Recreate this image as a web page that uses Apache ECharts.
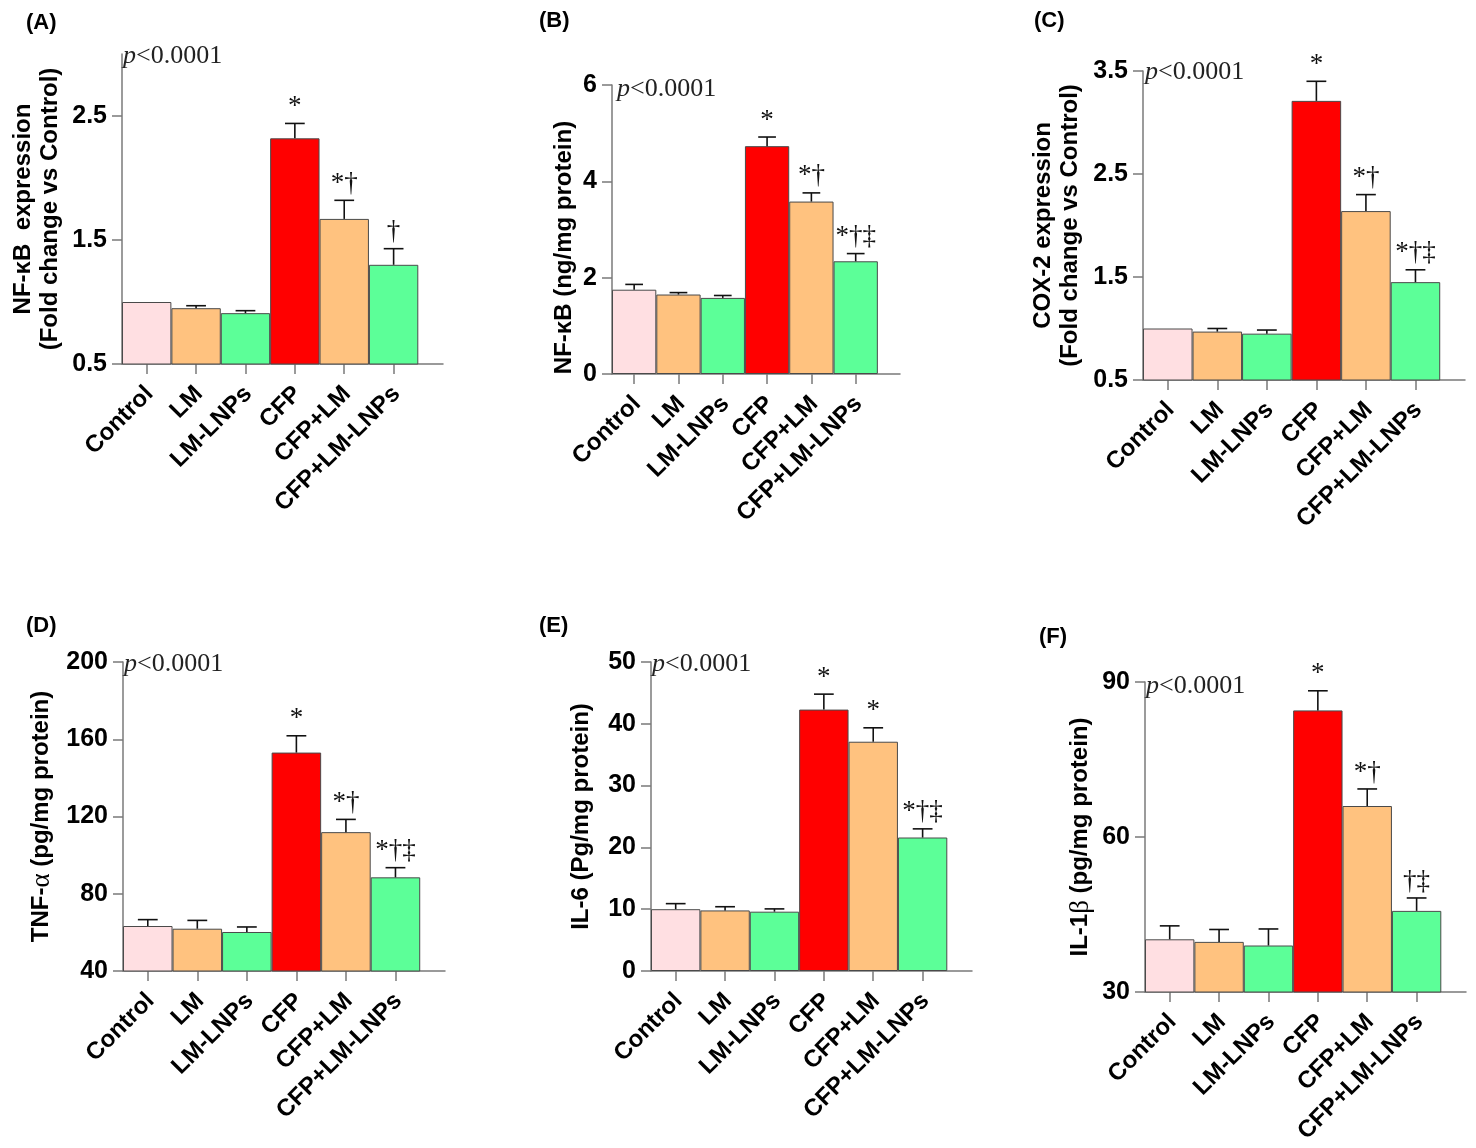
<!DOCTYPE html>
<html>
<head>
<meta charset="utf-8">
<script src="https://cdn.jsdelivr.net/npm/echarts@6/dist/echarts.min.js"></script>
<style>
    html, body {margin: 0; padding: 0; background: #fff;}
    #chart {width: 1476px; height: 1148px;}
</style>
</head>
<body>
<div id="chart"></div>
<script>
// groups on the x axis of every panel
const groups = ['Control', 'LM', 'LM-LNPs', 'CFP', 'CFP+LM', 'CFP+LM-LNPs']

// (A) NF-kB expression, fold change
const nfkbFold = [1.00, 0.95, 0.91, 2.32, 1.67, 1.30]
const nfkbFoldErr = [0, 0.02, 0.02, 0.12, 0.15, 0.13]
const nfkbFoldSig = ['', '', '', '*', '*†', '†']

// (B) NF-kB, ng/mg protein
const nfkbProt = [1.75, 1.65, 1.58, 4.73, 3.58, 2.34]
const nfkbProtErr = [0.11, 0.04, 0.05, 0.19, 0.18, 0.16]
const nfkbProtSig = ['', '', '', '*', '*†', '*†‡']

// (C) COX-2 expression, fold change
const cox2Fold = [1.00, 0.97, 0.95, 3.21, 2.14, 1.45]
const cox2FoldErr = [0, 0.03, 0.035, 0.19, 0.16, 0.12]
const cox2FoldSig = ['', '', '', '*', '*†', '*†‡']

// (D) TNF-alpha, pg/mg protein
const tnfAlpha = [63.3, 61.9, 60.2, 153.1, 111.9, 88.5]
const tnfAlphaErr = [3.3, 4.3, 2.6, 8.7, 6.6, 5.0]
const tnfAlphaSig = ['', '', '', '*', '*†', '*†‡']

// (E) IL-6, pg/mg protein
const il6 = [10.0, 9.8, 9.6, 42.3, 37.1, 21.6]
const il6Err = [0.9, 0.6, 0.45, 2.5, 2.25, 1.4]
const il6Sig = ['', '', '', '*', '*', '*†‡']

// (F) IL-1beta, pg/mg protein
const il1b = [40.2, 39.7, 39.0, 84.5, 66.0, 45.7]
const il1bErr = [2.6, 2.4, 3.2, 3.8, 3.3, 2.5]
const il1bSig = ['', '', '', '*', '*†', '†‡']

// y tick values per panel
const ticksA = [0.5, 1.5, 2.5]
const ticksB = [0, 2, 4, 6]
const ticksC = [0.5, 1.5, 2.5, 3.5]
const ticksD = [40, 80, 120, 160, 200]
const ticksE = [0, 10, 20, 30, 40, 50]
const ticksF = [30, 60, 90]

const barColors = ['#FFDFE2', '#FFC27F', '#5CFF98', '#FF0000', '#FFC27F', '#5CFF98']

const panels = [
    {tag: '(A)', name: 'NF-κB  expression\n(Fold change vs Control)', vals: nfkbFold, errs: nfkbFoldErr, sigs: nfkbFoldSig,
        ticks: ticksA, min: 0.5, max: 3.0,
        grid: {left: 122, top: 54, width: 321, height: 310}, nameGap: 58, namePad: [0, 0, 0, 0],
        tagPos: [26, 12], pPos: [123, 43]},
    {tag: '(B)', name: 'NF-κB (ng/mg protein)', vals: nfkbProt, errs: nfkbProtErr, sigs: nfkbProtSig,
        ticks: ticksB, min: 0, max: 6,
        grid: {left: 612, top: 85, width: 288, height: 289}, nameGap: 34, namePad: [0, 36, 0, 0],
        tagPos: [539, 10], pPos: [617, 76]},
    {tag: '(C)', name: 'COX-2 expression\n(Fold change vs Control)', vals: cox2Fold, errs: cox2FoldErr, sigs: cox2FoldSig,
        ticks: ticksC, min: 0.5, max: 3.5,
        grid: {left: 1143, top: 71, width: 322, height: 309}, nameGap: 59, namePad: [0, 0, 0, 0],
        tagPos: [1034, 10], pPos: [1145, 59]},
    {tag: '(D)', name: 'TNF-{g|α} (pg/mg protein)', vals: tnfAlpha, errs: tnfAlphaErr, sigs: tnfAlphaSig,
        ticks: ticksD, min: 40, max: 200,
        grid: {left: 123, top: 662, width: 322, height: 309}, nameGap: 68, namePad: [0, 0, 0, 0],
        tagPos: [26, 615], pPos: [124, 651]},
    {tag: '(E)', name: 'IL-6 (Pg/mg protein)', vals: il6, errs: il6Err, sigs: il6Sig,
        ticks: ticksE, min: 0, max: 50,
        grid: {left: 651, top: 662, width: 321, height: 309}, nameGap: 56, namePad: [0, 0, 0, 0],
        tagPos: [539, 615], pPos: [652, 651]},
    {tag: '(F)', name: 'IL-1{g|β} (pg/mg protein)', vals: il1b, errs: il1bErr, sigs: il1bSig,
        ticks: ticksF, min: 30, max: 90,
        grid: {left: 1145, top: 682, width: 321, height: 310}, nameGap: 51, namePad: [0, 0, 0, 0],
        tagPos: [1039, 626], pPos: [1146, 673]},
]

const axisGray = '#7a7a7a'
const sans = '"Liberation Sans", Arial, sans-serif'
const serif = '"Liberation Serif", "Times New Roman", serif'

// whisker (upper half only) plus significance marks above it
const errorBar = (sigs) => (params, api) => {
    const i = api.value(0)
    const v = api.value(1)
    const e = api.value(2)
    const base = api.coord([i, v])
    const tip = api.coord([i, v + e])
    const half = api.size([1, 0])[0] * 0.2
    const children = []
    if (e > 0) {
        children.push({type: 'line', shape: {x1: base[0], y1: base[1], x2: tip[0], y2: tip[1]},
            style: {stroke: '#111', lineWidth: 1.6}})
        children.push({type: 'line', shape: {x1: tip[0] - half, y1: tip[1], x2: tip[0] + half, y2: tip[1]},
            style: {stroke: '#111', lineWidth: 1.6}})
    }
    const sig = sigs[params.dataIndex]
    if (sig) {
        children.push({type: 'text', style: {text: sig, x: tip[0], y: tip[1] - 3, align: 'center',
            verticalAlign: 'bottom', font: '27px ' + serif, fill: '#111'}})
    }
    return {type: 'group', children}
}

const grid = [], xAxis = [], yAxis = [], series = [], title = []

panels.forEach((p, k) => {
    grid.push(Object.assign({outerBoundsMode: 'none', containLabel: false}, p.grid))
    xAxis.push({
        type: 'value', gridIndex: k, min: -0.5, max: 6,
        splitLine: {show: false},
        axisLine: {onZero: false, lineStyle: {color: axisGray, width: 1.5}},
        axisTick: {customValues: [0, 1, 2, 3, 4, 5], length: 10, lineStyle: {color: axisGray, width: 1.5}},
        axisLabel: {
            customValues: [0, 1, 2, 3, 4, 5],
            formatter: v => groups[v],
            rotate: 45, margin: 12, verticalAlign: 'top', padding: [0, 8, 0, 0],
            fontFamily: sans, fontWeight: 'bold', fontSize: 24, color: '#000'
        }
    })
    yAxis.push({
        type: 'value', gridIndex: k, min: p.min, max: p.max,
        name: p.name, nameLocation: 'middle', nameGap: p.nameGap,
        nameTextStyle: {fontFamily: sans, fontWeight: 'bold', fontSize: 24, color: '#000', lineHeight: 27,
            padding: p.namePad, rich: {g: {fontFamily: serif, fontSize: 27, fontWeight: 'normal', color: '#000'}}},
        splitLine: {show: false},
        axisLine: {show: true, onZero: false, lineStyle: {color: axisGray, width: 1.5}},
        axisTick: {show: true, customValues: p.ticks, length: 10, lineStyle: {color: axisGray, width: 1.5}},
        axisLabel: {customValues: p.ticks, margin: 15, fontFamily: sans, fontWeight: 'bold', fontSize: 25, color: '#000'}
    })
    series.push({
        type: 'bar', xAxisIndex: k, yAxisIndex: k, barWidth: '100%',
        data: p.vals.map((v, i) => ({value: [i, v], itemStyle: {color: barColors[i]}})),
        itemStyle: {borderColor: '#4a4a4a', borderWidth: 1},
        emphasis: {disabled: true}
    })
    series.push({
        type: 'custom', xAxisIndex: k, yAxisIndex: k, clip: false, z: 5,
        data: p.vals.map((v, i) => [i, v, p.errs[i]]),
        renderItem: errorBar(p.sigs)
    })
    title.push({text: p.tag, left: p.tagPos[0], top: p.tagPos[1], padding: 0,
        textStyle: {fontFamily: sans, fontWeight: 'bold', fontSize: 22, color: '#000'}})
    title.push({text: '{i|p}{n|<0.0001}', left: p.pPos[0], top: p.pPos[1], padding: 0,
        textStyle: {fontWeight: 'normal', rich: {
            i: {fontFamily: serif, fontStyle: 'italic', fontWeight: 'normal', fontSize: 26, color: '#222'},
            n: {fontFamily: serif, fontWeight: 'normal', fontSize: 26, color: '#222'}
        }}})
})

const myChart = echarts.init(document.getElementById('chart'))
myChart.setOption({animation: false, backgroundColor: '#fff', title, grid, xAxis, yAxis, series})
</script>
</body>
</html>
